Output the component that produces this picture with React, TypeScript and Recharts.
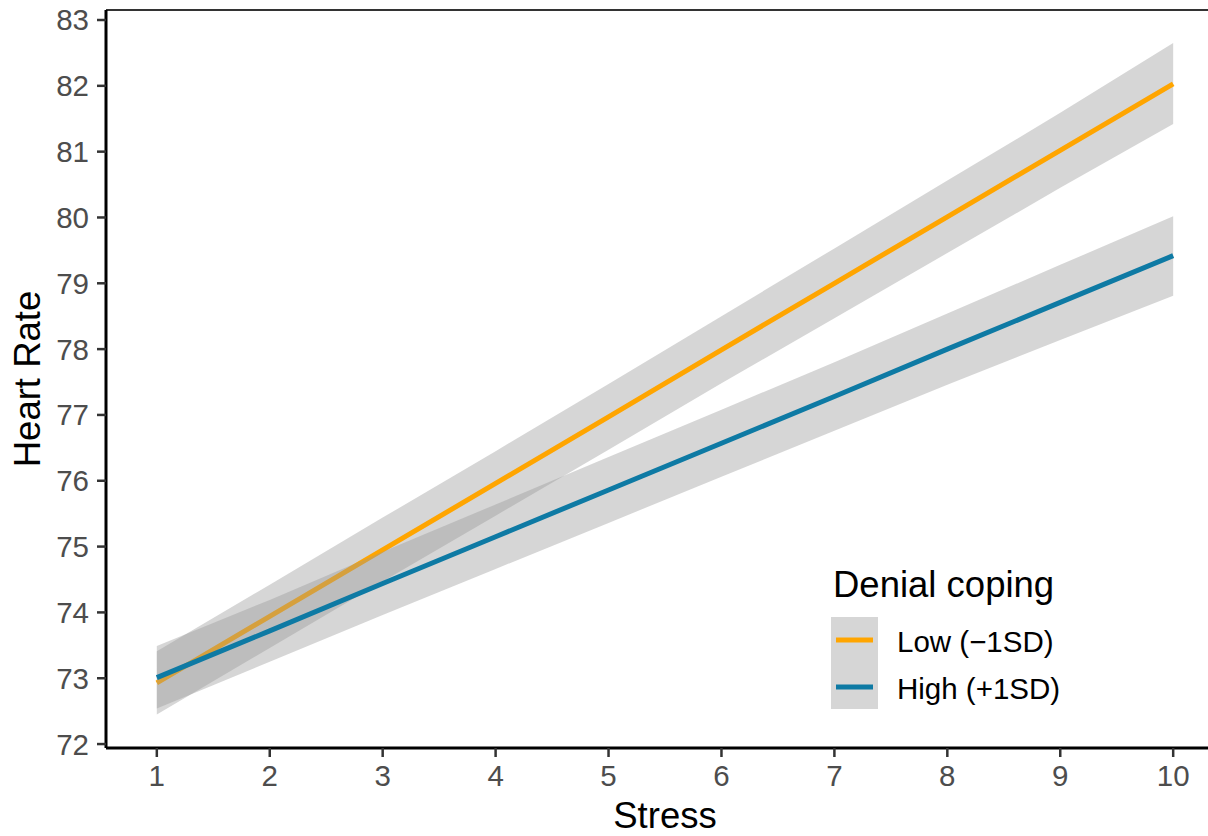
import { Area, ComposedChart, XAxis, YAxis } from "recharts";

const stress = [1, 2, 3, 4, 5, 6, 7, 8, 9, 10];

// Low denial coping (-1SD)
const lowFit = [72.93, 73.94, 74.95, 75.96, 76.97, 77.99, 79.0, 80.01, 81.02, 82.03];
const lowLower = [72.45, 73.46, 74.47, 75.47, 76.47, 77.48, 78.47, 79.46, 80.45, 81.42];
const lowUpper = [73.41, 74.42, 75.44, 76.45, 77.47, 78.5, 79.53, 80.56, 81.59, 82.65];

// High denial coping (+1SD)
const highFit = [73.01, 73.72, 74.44, 75.15, 75.86, 76.57, 77.28, 78.0, 78.71, 79.42];
const highLower = [72.54, 73.25, 73.96, 74.66, 75.36, 76.06, 76.76, 77.46, 78.14, 78.81];
const highUpper = [73.49, 74.19, 74.92, 75.64, 76.36, 77.08, 77.8, 78.54, 79.28, 80.02];

const yTicks = [72, 73, 74, 75, 76, 77, 78, 79, 80, 81, 82, 83];

const series = [
  { key: "low", label: "Low (\u22121SD)", color: "#FFA500" },
  { key: "high", label: "High (+1SD)", color: "#0E7AA4" },
];

const FONT = "'Liberation Sans', Arial, Helvetica, sans-serif";
const RIBBON = "#999999";
const LINE_W = 5;

const data = stress.map((s, i) => ({
  stress: s,
  low: lowFit[i],
  lowBand: [lowLower[i], lowUpper[i]],
  high: highFit[i],
  highBand: [highLower[i], highUpper[i]],
}));

function LegendBox() {
  return (
    <svg
      width={260}
      height={160}
      style={{ position: "absolute", left: 820, top: 560, fontFamily: FONT }}
    >
      <text x={13} y={37} fontSize={36.5} fill="#000">
        Denial coping
      </text>
      <rect x={11} y={57} width={47} height={92} fill="#d6d6d6" />
      {series.map((s, i) => (
        <g key={s.key}>
          <line x1={16} x2={53} y1={80 + i * 47} y2={80 + i * 47} stroke={s.color} strokeWidth={LINE_W} />
          <text x={77} y={81 + i * 47} fontSize={29.5} fill="#000" dominantBaseline="central">
            {s.label}
          </text>
        </g>
      ))}
    </svg>
  );
}

export default function App() {
  return (
    <div
      style={{
        position: "absolute",
        left: 0,
        top: 0,
        width: 1208,
        height: 836,
        overflow: "hidden",
        background: "#fff",
        fontFamily: FONT,
      }}
    >
      <ComposedChart
        width={1240}
        height={836}
        data={data}
        margin={{ top: 9, right: 16, bottom: 0, left: 6 }}
      >
        <XAxis
          xAxisId="top"
          orientation="top"
          dataKey="stress"
          type="number"
          domain={[0.55, 10.45]}
          allowDataOverflow
          height={1}
          tick={false}
          tickLine={false}
          axisLine={{ stroke: "#333333", strokeWidth: 2 }}
        />
        <XAxis
          dataKey="stress"
          type="number"
          domain={[0.55, 10.45]}
          ticks={stress}
          allowDataOverflow
          height={88}
          tickSize={9}
          tickMargin={8}
          axisLine={{ stroke: "#000", strokeWidth: 3 }}
          tickLine={{ stroke: "#333333", strokeWidth: 2.5 }}
          tick={{ fill: "#4d4d4d", fontSize: 29.5, fontFamily: FONT }}
          label={{ value: "Stress", position: "insideBottom", offset: 8, fill: "#000", fontSize: 36.5, fontFamily: FONT }}
        />
        <YAxis
          type="number"
          domain={[71.94, 83.152]}
          ticks={yTicks}
          allowDataOverflow
          width={100}
          tickSize={9}
          tickMargin={8}
          axisLine={{ stroke: "#000", strokeWidth: 3 }}
          tickLine={{ stroke: "#333333", strokeWidth: 2.5 }}
          tick={{ fill: "#4d4d4d", fontSize: 29.5, fontFamily: FONT }}
          label={(props: any) => {
            const vb = props.viewBox || { y: 10, height: 738 };
            const cy = vb.y + vb.height / 2;
            return (
              <text x={40} y={cy} transform={`rotate(-90 40 ${cy})`} textAnchor="middle"
                fontSize={36.5} fill="#000" fontFamily={FONT}>
                Heart Rate
              </text>
            );
          }}
        />
        <Area dataKey="lowBand" type="linear" stroke="none" fill={RIBBON} fillOpacity={0.4}
          isAnimationActive={false} activeDot={false} />
        <Area dataKey="low" type="linear" stroke={series[0].color} strokeWidth={LINE_W} fill="none"
          fillOpacity={0} activeDot={false} isAnimationActive={false} />
        <Area dataKey="highBand" type="linear" stroke="none" fill={RIBBON} fillOpacity={0.4}
          isAnimationActive={false} activeDot={false} />
        <Area dataKey="high" type="linear" stroke={series[1].color} strokeWidth={LINE_W} fill="none"
          fillOpacity={0} activeDot={false} isAnimationActive={false} />
      </ComposedChart>
      <LegendBox />
    </div>
  );
}
